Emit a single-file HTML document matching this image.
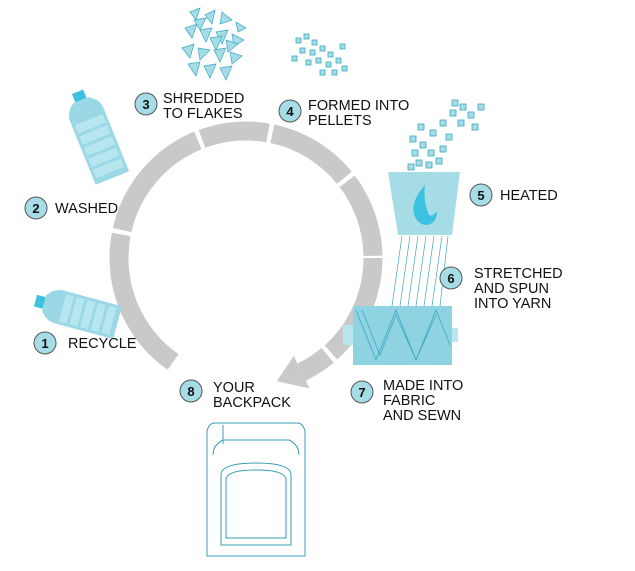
<!DOCTYPE html>
<html><head><meta charset="utf-8"><style>
body{margin:0;background:#fff;width:635px;height:571px;overflow:hidden}
svg{display:block}
text{font-family:"Liberation Sans",sans-serif;font-size:14.5px;fill:#111}
.b{fill:#a6dce5;stroke:#555;stroke-width:1}
.n{font-weight:bold;font-size:13px;text-anchor:middle}
</style></head><body>
<svg width="635" height="571" viewBox="0 0 635 571">
<circle cx="246" cy="258" r="127" fill="none" stroke="#c9c9ca" stroke-width="19"
 stroke-dasharray="106.4 4.4 31 135.2 145.6 4.4 121.9 4.4 67.1 4.4 86 4.4 80.2 2.2"/>
<polygon points="309.5,388.4 293.7,356 276.7,381.2" fill="#c9c9ca"/>

<g transform="translate(97,140) rotate(-22)">
<rect x="-6" y="-52" width="12" height="9" fill="#3cc2e0"/>
<path d="M-8,-43 h16 q10,6 10,16 v68 h-36 v-68 q0,-10 10,-16z" fill="#9bd8e6"/>
<g fill="#b8e6ef"><rect x="-15" y="-22" width="30" height="9"/><rect x="-15" y="-10" width="30" height="9"/><rect x="-15" y="2" width="30" height="9"/><rect x="-15" y="14" width="30" height="9"/><rect x="-15" y="26" width="30" height="9"/></g>
</g>
<g transform="translate(78,312) rotate(15)">
<rect x="-44" y="-6" width="9" height="12" fill="#3cc2e0"/>
<path d="M-35,-8 q6,-9 16,-9 h60 v34 h-60 q-10,0 -16,-9z" fill="#9bd8e6"/>
<g fill="#b8e6ef"><rect x="-16" y="-14" width="8" height="28"/><rect x="-5" y="-14" width="8" height="28"/><rect x="6" y="-14" width="8" height="28"/><rect x="17" y="-14" width="8" height="28"/><rect x="28" y="-14" width="8" height="28"/></g>
</g>
<g fill="#a6dce5" stroke="#3aa9c2" stroke-width="0.7">
<polygon points="190,12 200,8 196,20"/><polygon points="205,15 215,10 212,24"/><polygon points="222,12 232,20 220,24"/>
<polygon points="185,28 197,24 192,38"/><polygon points="200,30 212,28 206,42"/><polygon points="216,32 228,30 222,44"/>
<polygon points="232,34 244,40 234,46"/><polygon points="182,48 194,44 190,58"/><polygon points="198,48 210,50 200,60"/>
<polygon points="214,50 226,48 220,62"/><polygon points="230,52 242,56 232,64"/><polygon points="188,64 200,62 196,76"/>
<polygon points="204,66 216,64 210,78"/><polygon points="220,68 232,66 226,80"/><polygon points="236,22 246,28 238,32"/>
<polygon points="194,20 206,18 200,30"/><polygon points="210,38 222,36 216,50"/><polygon points="226,40 238,44 228,52"/>
</g>
<g fill="#a6dce5" stroke="#3aa9c2" stroke-width="0.8">
<rect x="296" y="38" width="5" height="5"/><rect x="304" y="34" width="5" height="5"/><rect x="312" y="40" width="5" height="5"/>
<rect x="300" y="48" width="5" height="5"/><rect x="310" y="50" width="5" height="5"/><rect x="320" y="46" width="5" height="5"/>
<rect x="328" y="52" width="5" height="5"/><rect x="316" y="58" width="5" height="5"/><rect x="326" y="62" width="5" height="5"/>
<rect x="336" y="58" width="5" height="5"/><rect x="306" y="60" width="5" height="5"/><rect x="320" y="70" width="5" height="5"/>
<rect x="332" y="70" width="5" height="5"/><rect x="342" y="66" width="5" height="5"/><rect x="292" y="56" width="5" height="5"/>
<rect x="340" y="44" width="5" height="5"/>
<rect x="412" y="150" width="6" height="6"/><rect x="420" y="142" width="6" height="6"/><rect x="428" y="150" width="6" height="6"/>
<rect x="416" y="160" width="6" height="6"/><rect x="426" y="162" width="6" height="6"/><rect x="436" y="158" width="6" height="6"/>
<rect x="408" y="164" width="6" height="6"/><rect x="430" y="130" width="6" height="6"/><rect x="440" y="120" width="6" height="6"/>
<rect x="450" y="110" width="6" height="6"/><rect x="460" y="104" width="6" height="6"/><rect x="468" y="112" width="6" height="6"/>
<rect x="458" y="120" width="6" height="6"/><rect x="472" y="124" width="6" height="6"/><rect x="446" y="134" width="6" height="6"/>
<rect x="418" y="124" width="6" height="6"/><rect x="410" y="136" width="6" height="6"/><rect x="440" y="146" width="6" height="6"/>
<rect x="452" y="100" width="6" height="6"/><rect x="478" y="104" width="6" height="6"/>
</g>
<polygon points="388,172 460,172 452,235 398,235" fill="#a6dce5"/>
<path d="M425,185 q-16,18 -10,32 q4,8 12,8 q10,-2 10,-14 q-4,6 -8,4 q-6,-14 -4,-30z" fill="#3cc2e0"/>
<g stroke="#3aa9c2" stroke-width="0.7"><line x1="402" y1="236" x2="392" y2="306"/><line x1="410" y1="236" x2="400" y2="306"/><line x1="418" y1="236" x2="408" y2="306"/><line x1="426" y1="236" x2="416" y2="306"/><line x1="434" y1="236" x2="424" y2="306"/><line x1="442" y1="236" x2="432" y2="306"/><line x1="448" y1="236" x2="440" y2="306"/></g>
<rect x="343" y="325" width="12" height="20" fill="#b8e6ef"/><rect x="450" y="328" width="8" height="14" fill="#b8e6ef"/>
<rect x="353" y="306" width="99" height="59" fill="#8fd3e2"/>
<g stroke="#3aa9c2" stroke-width="0.8" fill="none"><path d="M356,310 l20,50 l20,-50 l20,50 l20,-50 l14,35"/><path d="M362,310 l18,45 l16,-40 l20,45 l20,-45"/></g>
<g fill="none" stroke="#3a9db5" stroke-width="1">
<path d="M215,423 h82 q6,0 8,8 v125 h-98 v-125 q2,-8 8,-8z"/>
<path d="M213,455 q0,-10 10,-15 h66 q10,5 10,15"/>
<path d="M221,475 q0,-12 35,-12 q35,0 35,12 v70 h-70z"/>
<path d="M226,480 q0,-10 30,-10 q30,0 30,10 v58 h-60z"/>
<line x1="223" y1="425" x2="223" y2="444"/>
</g>

<circle class="b" cx="45" cy="343" r="11"/><text class="n" x="45" y="348">1</text>
<circle class="b" cx="36" cy="208" r="11"/><text class="n" x="36" y="213">2</text>
<circle class="b" cx="146" cy="104" r="11"/><text class="n" x="146" y="109">3</text>
<circle class="b" cx="290" cy="111" r="11"/><text class="n" x="290" y="116">4</text>
<circle class="b" cx="481" cy="195" r="11"/><text class="n" x="481" y="200">5</text>
<circle class="b" cx="451" cy="278" r="11"/><text class="n" x="451" y="283">6</text>
<circle class="b" cx="362" cy="392" r="11"/><text class="n" x="362" y="397">7</text>
<circle class="b" cx="191" cy="391" r="11"/><text class="n" x="191" y="396">8</text>

<text x="68" y="348">RECYCLE</text>
<text x="55" y="213">WASHED</text>
<text x="163" y="103">SHREDDED</text><text x="163" y="118">TO FLAKES</text>
<text x="308" y="110">FORMED INTO</text><text x="308" y="125">PELLETS</text>
<text x="500" y="200">HEATED</text>
<text x="474" y="278">STRETCHED</text><text x="474" y="293">AND SPUN</text><text x="474" y="308">INTO YARN</text>
<text x="383" y="390">MADE INTO</text><text x="383" y="405">FABRIC</text><text x="383" y="420">AND SEWN</text>
<text x="213" y="392">YOUR</text><text x="213" y="407">BACKPACK</text>
</svg>
</body></html>
